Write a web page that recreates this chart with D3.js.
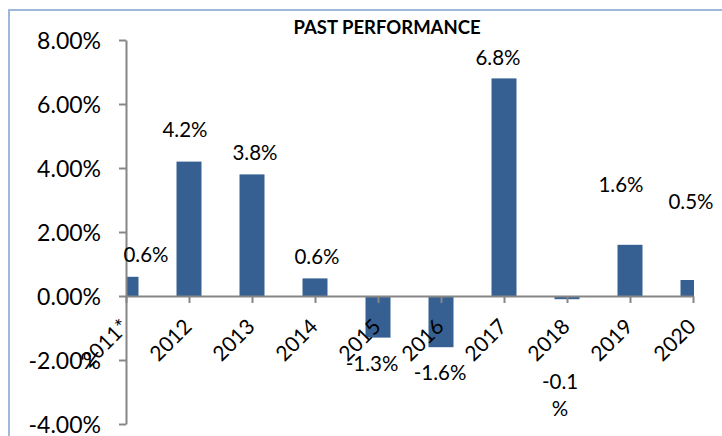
<!DOCTYPE html>
<html>
<head>
<meta charset="utf-8">
<script src="https://cdn.jsdelivr.net/npm/d3@7"></script>
<style>
  body { margin: 0; background: #fff; }
  text { font-family: Lato, "Open Sans", sans-serif; fill: #000; }
</style>
</head>
<body>
<script>
// chart data
const years = ["2011*", "2012", "2013", "2014", "2015", "2016", "2017", "2018", "2019", "2020"];
const returns = [0.6, 4.2, 3.8, 0.55, -1.3, -1.6, 6.8, -0.1, 1.6, 0.5];
const yTicks = [-4, -2, 0, 2, 4, 6, 8];
// labels were dragged around by hand in the original, so nudge them (px)
const labelDx = [20, -4, 3, 2, -6, -1, -6, -7, -9, -2];
const labelDy = [-22, -32, -22, -22, 26, 26, -21, 83, -60, -78];

const w = 722, h = 436;
const plotL = 126, plotR = 693, plotT = 40, plotB = 424;

const svg = d3.select("body")
    .append("svg")
    .attr("width", w)
    .attr("height", h);

// outer chart border
svg.append("rect")
    .attr("x", 9)
    .attr("y", 10)
    .attr("width", 740)
    .attr("height", 460)
    .attr("fill", "none")
    .attr("stroke", "#9db8da")
    .attr("stroke-width", 2);

const xScale = d3.scalePoint()
    .domain(years)
    .range([plotL, plotR]);

const yScale = d3.scaleLinear()
    .domain([-4, 8])
    .range([plotB, plotT]);

svg.append("clipPath")
    .attr("id", "plot")
    .append("rect")
    .attr("x", plotL)
    .attr("y", 0)
    .attr("width", plotR - plotL + 1)
    .attr("height", h);

const barW = 25;
svg.append("g")
    .attr("clip-path", "url(#plot)")
    .selectAll("rect")
    .data(returns)
    .enter()
    .append("rect")
    .attr("x", (d, i) => xScale(years[i]) - barW / 2)
    .attr("y", d => yScale(Math.max(d, 0)))
    .attr("width", barW)
    .attr("height", d => Math.abs(yScale(d) - yScale(0)))
    .attr("fill", "#376092");

// y axis
const yAxis = d3.axisLeft(yScale)
    .tickValues(yTicks)
    .tickFormat(d => d.toFixed(2) + "%")
    .tickSizeInner(7)
    .tickSizeOuter(0)
    .tickPadding(18);

const gy = svg.append("g")
    .attr("transform", "translate(" + plotL + ",0)")
    .call(yAxis);
gy.selectAll("text").style("font-size", "23px").attr("dy", "0.36em");

// x axis at zero
const xAxis = d3.axisBottom(xScale)
    .tickSizeInner(7)
    .tickSizeOuter(0)
    .tickFormat("");

svg.append("g")
    .attr("transform", "translate(0," + yScale(0) + ")")
    .call(xAxis);

svg.selectAll(".domain, .tick line")
    .attr("stroke", "#868686")
    .attr("stroke-width", 2);

// rotated category labels
svg.append("g")
    .selectAll("text")
    .data(years)
    .enter()
    .append("text")
    .attr("transform", d => "translate(" + (xScale(d) + 4) + ",328) rotate(-45)")
    .attr("text-anchor", "end")
    .style("font-size", "21px")
    .text(d => d);

// data labels
const labels = svg.append("g")
    .selectAll("text")
    .data(returns)
    .enter()
    .append("text")
    .attr("text-anchor", "middle")
    .style("font-size", "20.5px")
    .attr("x", (d, i) => xScale(years[i]) + labelDx[i])
    .attr("y", (d, i) => yScale(d) + labelDy[i]);

labels.each(function(d, i) {
    const s = d.toFixed(1);
    const t = d3.select(this);
    if (years[i] === "2018") {
        t.append("tspan").attr("dy", "0.35em").text(s);
        t.append("tspan").attr("x", xScale(years[i]) + labelDx[i]).attr("dy", 27).text("%");
    } else {
        t.attr("dy", "0.35em").text(s + "%");
    }
});

// title
svg.append("text")
    .attr("x", 387)
    .attr("y", 34)
    .attr("text-anchor", "middle")
    .style("font-size", "18.5px")
    .style("font-weight", "bold")
    .text("PAST PERFORMANCE");
</script>
</body>
</html>
